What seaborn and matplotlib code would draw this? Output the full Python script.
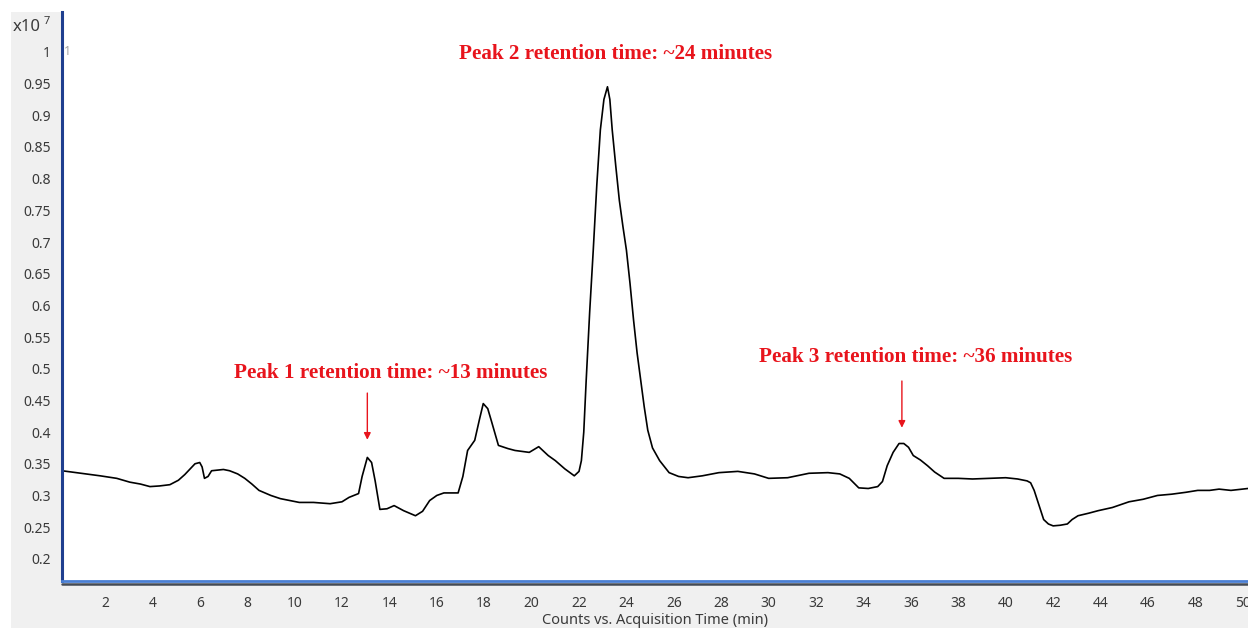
import matplotlib
matplotlib.use("Agg")
import matplotlib.pyplot as plt
from matplotlib.patches import Rectangle
from matplotlib.lines import Line2D
import seaborn as sns
import numpy as np
import pandas as pd

# Data (time in min, counts in x10^7)
time_min = [0.19, 1.0, 1.8, 2.5, 3.05, 3.5, 3.9, 4.3, 4.74, 5.1, 5.37, 5.6, 5.8, 6.0, 6.1, 6.2, 6.35,
            6.5, 7.0, 7.26, 7.6, 7.9, 8.2, 8.5, 9.0, 9.4, 9.8, 10.2, 10.8, 11.5, 12.0, 12.3, 12.7,
            12.85, 13.07, 13.25, 13.4, 13.6, 13.9, 14.2, 14.6, 15.1, 15.4, 15.7, 16.0, 16.3, 16.9,
            17.1, 17.3, 17.6, 17.8, 17.96, 18.15, 18.3, 18.6, 19.0, 19.3, 19.9, 20.3, 20.7, 21.0,
            21.4, 21.8, 22.0, 22.1, 22.2, 22.3, 22.45, 22.6, 22.75, 22.9, 23.05, 23.2, 23.3, 23.4,
            23.55, 23.7, 23.85, 24.0, 24.15, 24.3, 24.45, 24.6, 24.75, 24.9, 25.1, 25.4, 25.8,
            26.2, 26.6, 27.2, 27.9, 28.7, 29.4, 30.0, 30.8, 31.7, 32.5, 33.0, 33.4, 33.8, 34.2,
            34.6, 34.8, 35.0, 35.25, 35.5, 35.7, 35.9, 36.1, 36.4, 36.7, 37.0, 37.4, 38.0, 38.6,
            39.3, 40.0, 40.5, 40.9, 41.05, 41.2, 41.4, 41.6, 41.8, 42.0, 42.3, 42.6, 42.8, 43.05,
            43.5, 43.9, 44.5, 45.2, 45.8, 46.4, 47.0, 47.6, 48.1, 48.6, 49.0, 49.5, 50.22]
counts = [0.339, 0.335, 0.331, 0.327, 0.321, 0.318, 0.314, 0.315, 0.317, 0.324, 0.333, 0.342, 0.350, 0.352,
          0.345, 0.327, 0.330, 0.339, 0.341, 0.339, 0.334, 0.327, 0.318, 0.308, 0.300, 0.295, 0.292,
          0.289, 0.289, 0.287, 0.290, 0.297, 0.303, 0.330, 0.360, 0.352, 0.323, 0.278, 0.279, 0.284,
          0.276, 0.268, 0.275, 0.292, 0.300, 0.304, 0.304, 0.330, 0.371, 0.387, 0.420, 0.445, 0.437,
          0.418, 0.379, 0.374, 0.371, 0.368, 0.377, 0.363, 0.355, 0.342, 0.331, 0.338, 0.355, 0.40,
          0.48, 0.59, 0.687, 0.79, 0.877, 0.925, 0.945, 0.925, 0.877, 0.82, 0.766, 0.725, 0.687,
          0.635, 0.577, 0.525, 0.482, 0.44, 0.403, 0.375, 0.355, 0.336, 0.330, 0.328, 0.331, 0.336,
          0.338, 0.334, 0.327, 0.328, 0.335, 0.336, 0.334, 0.327, 0.312, 0.311, 0.314, 0.322, 0.347,
          0.368, 0.382, 0.382, 0.376, 0.363, 0.356, 0.347, 0.337, 0.327, 0.327, 0.326, 0.327, 0.328,
          0.326, 0.323, 0.320, 0.308, 0.285, 0.262, 0.255, 0.252, 0.253, 0.255, 0.262, 0.268, 0.272,
          0.276, 0.281, 0.290, 0.294, 0.300, 0.302, 0.305, 0.308, 0.308, 0.310, 0.308, 0.311]

y_ticks = [0.2, 0.25, 0.3, 0.35, 0.4, 0.45, 0.5, 0.55, 0.6, 0.65, 0.7, 0.75, 0.8, 0.85, 0.9, 0.95, 1.0]
x_ticks = list(range(2, 51, 2))

annotations = [
    "Peak 1 retention time: ~13 minutes",
    "Peak 2 retention time: ~24 minutes",
    "Peak 3 retention time: ~36 minutes",
]

df = pd.DataFrame({"time": time_min, "counts": counts})

sns.set_style("white")
plt.rcParams["font.family"] = ["Noto Sans", "DejaVu Sans"]

fig = plt.figure(figsize=(12.48, 6.28), dpi=100, facecolor="white")
# grey panel around the plot
fig.patches.append(Rectangle((11 / 1248, 0), 1 - 11 / 1248, 1 - 12 / 628,
                             transform=fig.transFigure, facecolor="#f0f0f0",
                             edgecolor="none", zorder=-10))

ax = fig.add_axes([62 / 1248, 1 - 581 / 628, 1 - 62 / 1248, (581 - 12) / 628])
ax.set_facecolor("white")

sns.lineplot(data=df, x="time", y="counts", ax=ax, color="black", linewidth=1.2)

ax.set_xlim(0.19, 50.22)
ax.set_ylim(0.165, 1.063)
ax.set_xticks(x_ticks)
ax.set_xticklabels([str(t) for t in x_ticks])
ax.set_yticks(y_ticks)
ax.set_yticklabels([f"{v:g}" for v in y_ticks])
ax.set_ylabel("")

ax.tick_params(axis="both", direction="out", length=5, width=1.2, color="#333333",
               labelcolor="#3a3a3a", labelsize=10, pad=3)
ax.tick_params(axis="x", pad=6)

for s in ["top", "right"]:
    ax.spines[s].set_visible(False)
ax.spines["left"].set_color("#1f3f8f")
ax.spines["left"].set_linewidth(2.2)
ax.spines["bottom"].set_color("#4a7fd4")
ax.spines["bottom"].set_linewidth(2.0)
# second darker line under bottom axis
ax.add_line(Line2D([0, 1], [-0.006, -0.006], transform=ax.transAxes, color="#444a55",
                   linewidth=1.8, clip_on=False))

ax.set_xlabel("Counts vs. Acquisition Time (min)", fontsize=10.5, color="#3a3a3a", labelpad=1)

fig.text(13 / 1248, 1 - 27 / 628, "x10", fontsize=12, color="#3a3a3a", va="center", ha="left")
fig.text(44 / 1248, 1 - 21 / 628, "7", fontsize=8, color="#3a3a3a", va="center", ha="left")
ax.text(0.28, 1.0, "1", fontsize=9, color="#a0a0a0", va="center", ha="left")

red = "#e8141c"
tfont = dict(family="Liberation Serif", weight="bold", size=15.2, color=red)
ax.text(14.05, 0.493, annotations[0], ha="center", va="center", **tfont)
ax.text(23.56, 0.997, annotations[1], ha="center", va="center", **tfont)
ax.text(36.2, 0.518, annotations[2], ha="center", va="center", **tfont)

arrowprops = dict(arrowstyle="-|>", color=red, lw=1.0, mutation_scale=10)
ax.annotate("", xy=(13.07, 0.3835), xytext=(13.07, 0.466), arrowprops=arrowprops)
ax.annotate("", xy=(35.62, 0.4025), xytext=(35.62, 0.485), arrowprops=arrowprops)

fig.savefig("out.png", dpi=100, facecolor=fig.get_facecolor())
